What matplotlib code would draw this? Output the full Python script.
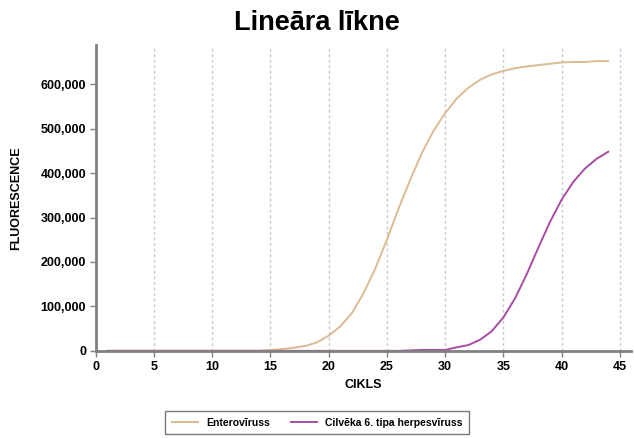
import matplotlib
matplotlib.use("Agg")
import matplotlib.pyplot as plt
from matplotlib.ticker import FuncFormatter

plt.rcParams['font.family'] = ['Liberation Sans', 'DejaVu Sans']

cycles = list(range(1, 45))
entero = [0]*14 + [2000, 4000, 7000, 11000, 19000, 34000, 55000, 85000, 130000, 185000,
                   250000, 320000, 385000, 445000, 495000, 535000, 568000, 592000, 610000, 622000,
                   630000, 636000, 640000, 643000, 646000, 649000, 650000, 650000, 652000, 652000]
herpes = [0]*26 + [1000, 2000, 2000, 2000, 8000, 13000, 25000, 44000, 75000, 118000,
                   172000, 232000, 290000, 340000, 380000, 410000, 432000, 448000]
series_names = ["Enterovīruss", "Cilvēka 6. tipa herpesvīruss"]
colors = ["#DDBB92", "#A94CA5"]

fig = plt.figure(figsize=(6.34, 4.38), dpi=100)
ax = fig.add_axes([0.151, 0.199, 0.845, 0.698])

ax.plot(cycles, entero, color=colors[0], lw=1.4, label=series_names[0])
ax.plot(cycles, herpes, color=colors[1], lw=1.4, label=series_names[1])

ax.set_xlim(0, 46)
ax.set_ylim(0, 688000)
ax.set_xticks(range(0, 50, 5))
ax.set_yticks(range(0, 700000, 100000))
ax.yaxis.set_major_formatter(FuncFormatter(lambda v, p: f"{int(v):,}"))
for lbl in ax.get_xticklabels() + ax.get_yticklabels():
    lbl.set_fontweight('bold')
    lbl.set_fontsize(9)

ax.xaxis.grid(True, color='#c8c8c8', linestyle=(0, (2, 2)), lw=1)
ax.yaxis.grid(False)
ax.set_axisbelow(True)
for s in ['top', 'right']:
    ax.spines[s].set_visible(False)
for s in ['left', 'bottom']:
    ax.spines[s].set_color('#808080')
    ax.spines[s].set_linewidth(2)
ax.tick_params(axis='both', color='#808080', length=4, width=1, pad=3)

ax.set_xlabel("CIKLS", fontsize=9, fontweight='bold', labelpad=4.5)
ax.set_ylabel("FLUORESCENCE", fontsize=9, fontweight='bold', labelpad=13)
fig.text(0.5, 0.948, "Lineāra līkne", ha='center', va='center', fontsize=19.5, fontweight='bold')

leg = fig.legend(loc='center', bbox_to_anchor=(0.5, 0.035), ncol=2, frameon=True,
                 fancybox=False, edgecolor='#555555', prop={'size': 7.5, 'weight': 'bold'},
                 handlelength=2.5, columnspacing=2.0, borderpad=0.6)
leg.get_frame().set_linewidth(1)

fig.savefig("out.png", dpi=100)
